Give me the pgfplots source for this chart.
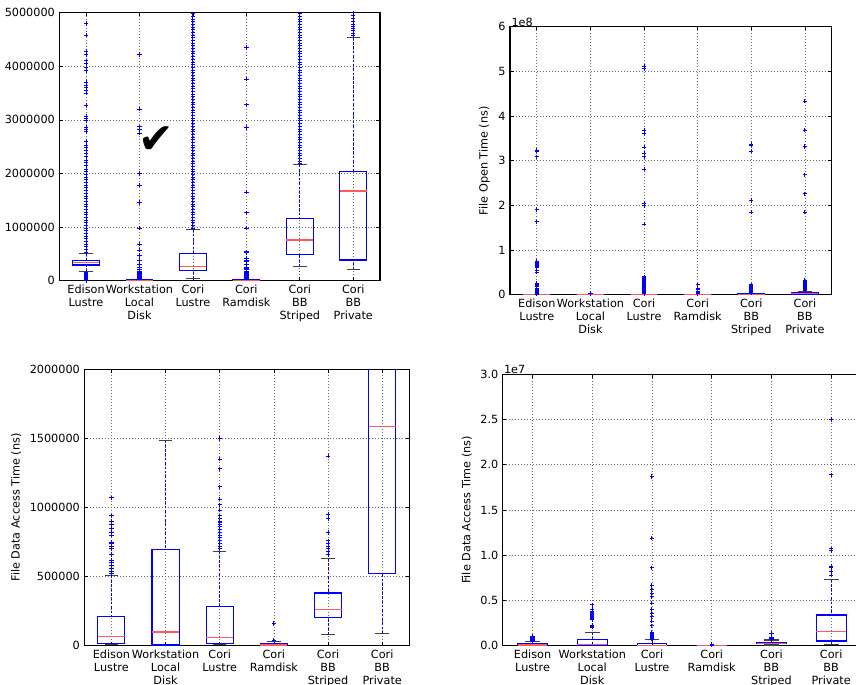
\documentclass[border=0pt]{standalone}
\usepackage{pgfplots}
\pgfplotsset{compat=1.18}
\usepgfplotslibrary{statistics}
\usepackage{fontspec}
\setmainfont{DejaVu Sans}
\definecolor{medred}{RGB}{255,90,90}
\newcommand{\lab}{\fontsize{9}{10.4}\selectfont}
\pgfplotsset{
  boxplot/draw/lower whisker/.code={%
    \draw[blue, dash pattern=on 2pt off 1.5pt, line width=0.6pt]
      (boxplot cs:\pgfplotsboxplotvalue{lower whisker},0) --
      (boxplot cs:\pgfplotsboxplotvalue{lower quartile},0);
    \draw[black!75, line width=0.9pt]
      (boxplot whisker cs:\pgfplotsboxplotvalue{lower whisker},0) --
      (boxplot whisker cs:\pgfplotsboxplotvalue{lower whisker},1);
  },
  boxplot/draw/upper whisker/.code={%
    \draw[blue, dash pattern=on 2pt off 1.5pt, line width=0.6pt]
      (boxplot cs:\pgfplotsboxplotvalue{upper whisker},0) --
      (boxplot cs:\pgfplotsboxplotvalue{upper quartile},0);
    \draw[black!75, line width=0.9pt]
      (boxplot whisker cs:\pgfplotsboxplotvalue{upper whisker},0) --
      (boxplot whisker cs:\pgfplotsboxplotvalue{upper whisker},1);
  },
  bx/.style={
    scale only axis, anchor=south west,
    xmin=0.5, xmax=6.5, xtick={1,2,3,4,5,6},
    xticklabels={{Edison\\Lustre},{Workstation\\Local\\Disk},{Cori\\Lustre},{Cori\\Ramdisk},{Cori\\BB\\Striped},{Cori\\BB\\Private}},
    xticklabel style={align=center},
    ticklabel style={font=\lab},
    label style={font=\lab},
    /pgf/number format/assume math mode=true,
    scaled y ticks=false,
    yticklabel style={/pgf/number format/fixed, /pgf/number format/1000 sep={}},
    xmajorgrids, ymajorgrids,
    grid style={black!60, dotted, line width=0.6pt},
    axis line style={black, line width=0.9pt},
    tick align=inside, major tick length=3pt, tick style={black, line width=0.6pt},
    boxplot/draw direction=y,
    boxplot/box extend=0.5,
    boxplot/whisker extend=0.25,
    boxplot/every box/.style={draw=blue, line width=0.9pt},
    boxplot/every median/.style={draw=medred, line width=1pt},
    every axis plot/.append style={blue, mark=+, mark size=1.7pt, mark options={blue, line width=0.8pt, solid}},
  },
}
% shared data for the two "File Data Access Time" panels (ns)
\newcommand{\accessplots}{%
  \addplot[boxplot prepared={draw position=1, lower whisker=10000, lower quartile=14500, median=67600, upper quartile=212000, upper whisker=507000}]
    table[row sep=\\, y index=0] {v\\ 0.52e6\\ 0.54e6\\ 0.56e6\\ 0.58e6\\ 0.6e6\\ 0.62e6\\ 0.66e6\\ 0.7e6\\ 0.72e6\\ 0.74e6\\ 0.75e6\\ 0.8e6\\ 0.82e6\\ 0.85e6\\ 0.88e6\\ 0.9e6\\ 0.94e6\\ 1.07e6\\};
  \addplot[boxplot prepared={draw position=2, lower whisker=2000, lower quartile=5000, median=99000, upper quartile=697000, upper whisker=1486000}]
    table[row sep=\\, y index=0] {v\\ 2.05e6\\ 2.15e6\\ 2.25e6\\ 2.9e6\\ 3.0e6\\ 3.1e6\\ 3.2e6\\ 3.3e6\\ 3.4e6\\ 3.5e6\\ 3.6e6\\ 3.7e6\\ 3.8e6\\ 4.0e6\\ 4.5e6\\};
  \addplot[boxplot prepared={draw position=3, lower whisker=10000, lower quartile=14500, median=58000, upper quartile=282000, upper whisker=683000}]
    table[row sep=\\, y index=0] {v\\ 0.7e6\\ 0.72e6\\ 0.74e6\\ 0.76e6\\ 0.78e6\\ 0.8e6\\ 0.82e6\\ 0.84e6\\ 0.86e6\\ 0.88e6\\ 0.89e6\\ 0.9e6\\ 0.92e6\\ 0.94e6\\ 0.98e6\\ 1.02e6\\ 1.06e6\\ 1.15e6\\ 1.28e6\\ 1.35e6\\ 1.5e6\\ 2.2e6\\ 2.7e6\\ 3.2e6\\ 3.6e6\\ 4.0e6\\ 4.7e6\\ 5.4e6\\ 5.8e6\\ 6.2e6\\ 6.7e6\\ 8.6e6\\ 11.9e6\\ 18.7e6\\};
  \addplot[boxplot prepared={draw position=4, lower whisker=0, lower quartile=2000, median=5000, upper quartile=12000, upper whisker=29000}]
    table[row sep=\\, y index=0] {v\\ 40000\\ 160000\\};
  \addplot[boxplot prepared={draw position=5, lower whisker=80000, lower quartile=207000, median=263000, upper quartile=381000, upper whisker=630000}]
    table[row sep=\\, y index=0] {v\\ 0.66e6\\ 0.68e6\\ 0.7e6\\ 0.72e6\\ 0.74e6\\ 0.76e6\\ 0.82e6\\ 0.92e6\\ 0.95e6\\ 1.37e6\\};
  \addplot[boxplot prepared={draw position=6, lower whisker=87000, lower quartile=524000, median=1585000, upper quartile=3400000, upper whisker=7300000}]
    table[row sep=\\, y index=0] {v\\ 7.8e6\\ 8.2e6\\ 8.7e6\\ 8.8e6\\ 10.5e6\\ 10.7e6\\ 18.9e6\\ 25.0e6\\};
}
\begin{document}
\begin{tikzpicture}
\path[use as bounding box] (0,0) rectangle (684.8pt,547.2pt);

% ---------------- Panel 1 ----------------
\begin{axis}[bx, at={(47.44pt,322.64pt)}, width=256.56pt, height=214.4pt,
  ymin=0, ymax=5000000, ytick={0,1000000,2000000,3000000,4000000,5000000}]
  \addplot[boxplot prepared={draw position=1, lower whisker=168000, lower quartile=292000, median=336000, upper quartile=385000, upper whisker=510000}]
    table[row sep=\\, y index=0] {v\\ 5000\\ 20000\\ 35000\\ 50000\\ 65000\\ 80000\\ 95000\\ 110000\\ 125000\\ 140000\\ 155000\\
    0.53e6\\ 0.58e6\\ 0.63e6\\ 0.68e6\\ 0.73e6\\ 0.78e6\\ 0.83e6\\ 0.88e6\\ 0.93e6\\ 0.98e6\\ 1.03e6\\ 1.08e6\\ 1.13e6\\ 1.18e6\\ 1.23e6\\ 1.28e6\\ 1.33e6\\ 1.38e6\\ 1.43e6\\ 1.48e6\\ 1.53e6\\ 1.58e6\\ 1.63e6\\ 1.68e6\\ 1.73e6\\ 1.78e6\\ 1.83e6\\ 1.88e6\\ 1.93e6\\ 1.98e6\\ 2.03e6\\ 2.08e6\\
    2.15e6\\ 2.2e6\\ 2.25e6\\ 2.32e6\\ 2.38e6\\ 2.42e6\\ 2.48e6\\ 2.53e6\\ 2.6e6\\ 2.78e6\\ 2.82e6\\ 2.86e6\\ 2.98e6\\ 3.03e6\\ 3.07e6\\ 3.27e6\\ 3.5e6\\ 3.55e6\\ 3.6e6\\ 3.65e6\\ 3.7e6\\ 3.92e6\\ 3.98e6\\ 4.05e6\\ 4.1e6\\ 4.22e6\\ 4.28e6\\ 4.58e6\\ 4.8e6\\};
  \addplot[boxplot prepared={draw position=2, lower whisker=0, lower quartile=3000, median=10000, upper quartile=15000, upper whisker=30000}]
    table[row sep=\\, y index=0] {v\\ 45000\\ 60000\\ 80000\\ 100000\\ 120000\\ 140000\\ 160000\\ 180000\\ 200000\\ 250000\\ 300000\\ 380000\\ 470000\\ 570000\\ 680000\\ 0.98e6\\ 1.46e6\\ 1.78e6\\ 2.0e6\\ 2.75e6\\ 2.83e6\\ 2.87e6\\ 3.2e6\\ 4.22e6\\};
  \addplot[boxplot prepared={draw position=3, lower whisker=37000, lower quartile=187000, median=261000, upper quartile=500000, upper whisker=958000}]
    table[row sep=\\, y index=0] {v\\ 0.98e6\\ 1.03e6\\ 1.08e6\\ 1.13e6\\ 1.18e6\\ 1.23e6\\ 1.28e6\\ 1.33e6\\ 1.38e6\\ 1.43e6\\
    1.48e6\\ 1.53e6\\ 1.58e6\\ 1.63e6\\ 1.68e6\\ 1.73e6\\ 1.78e6\\ 1.83e6\\ 1.88e6\\ 1.93e6\\
    1.98e6\\ 2.03e6\\ 2.08e6\\ 2.13e6\\ 2.18e6\\ 2.23e6\\ 2.28e6\\ 2.33e6\\ 2.38e6\\ 2.43e6\\
    2.48e6\\ 2.53e6\\ 2.58e6\\ 2.63e6\\ 2.68e6\\ 2.73e6\\ 2.78e6\\ 2.83e6\\ 2.88e6\\ 2.93e6\\
    2.98e6\\ 3.03e6\\ 3.08e6\\ 3.13e6\\ 3.18e6\\ 3.23e6\\ 3.28e6\\ 3.33e6\\ 3.38e6\\ 3.43e6\\
    3.48e6\\ 3.53e6\\ 3.58e6\\ 3.63e6\\ 3.68e6\\ 3.73e6\\ 3.78e6\\ 3.83e6\\ 3.88e6\\ 3.93e6\\
    3.98e6\\ 4.03e6\\ 4.08e6\\ 4.13e6\\ 4.18e6\\ 4.23e6\\ 4.28e6\\ 4.33e6\\ 4.38e6\\ 4.43e6\\
    4.48e6\\ 4.53e6\\ 4.58e6\\ 4.63e6\\ 4.68e6\\ 4.73e6\\ 4.78e6\\ 4.83e6\\ 4.88e6\\ 4.93e6\\ 4.98e6\\};
  \addplot[boxplot prepared={draw position=4, lower whisker=0, lower quartile=3000, median=10000, upper quartile=18000, upper whisker=30000}]
    table[row sep=\\, y index=0] {v\\ 45000\\ 60000\\ 80000\\ 100000\\ 120000\\ 140000\\ 160000\\ 180000\\ 200000\\ 220000\\ 250000\\ 300000\\ 350000\\ 380000\\ 420000\\ 520000\\ 540000\\ 0.98e6\\ 1.27e6\\ 1.65e6\\ 2.86e6\\ 3.28e6\\ 3.76e6\\ 4.35e6\\};
  \addplot[boxplot prepared={draw position=5, lower whisker=261000, lower quartile=497000, median=759000, upper quartile=1157000, upper whisker=2164000}]
    table[row sep=\\, y index=0] {v\\ 2.18e6\\ 2.23e6\\ 2.28e6\\ 2.33e6\\ 2.38e6\\ 2.43e6\\
    2.48e6\\ 2.53e6\\ 2.58e6\\ 2.63e6\\ 2.68e6\\ 2.73e6\\ 2.78e6\\ 2.83e6\\ 2.88e6\\ 2.93e6\\
    2.98e6\\ 3.03e6\\ 3.08e6\\ 3.13e6\\ 3.18e6\\ 3.23e6\\ 3.28e6\\ 3.33e6\\ 3.38e6\\ 3.43e6\\
    3.48e6\\ 3.53e6\\ 3.58e6\\ 3.63e6\\ 3.68e6\\ 3.73e6\\ 3.78e6\\ 3.83e6\\ 3.88e6\\ 3.93e6\\
    3.98e6\\ 4.03e6\\ 4.08e6\\ 4.13e6\\ 4.18e6\\ 4.23e6\\ 4.28e6\\ 4.33e6\\ 4.38e6\\ 4.43e6\\
    4.48e6\\ 4.53e6\\ 4.58e6\\ 4.63e6\\ 4.68e6\\ 4.73e6\\ 4.78e6\\ 4.83e6\\ 4.88e6\\ 4.93e6\\ 4.98e6\\};
  \addplot[boxplot prepared={draw position=6, lower whisker=211000, lower quartile=386000, median=1673000, upper quartile=2040000, upper whisker=4534000}]
    table[row sep=\\, y index=0] {v\\ 4.58e6\\ 4.62e6\\ 4.66e6\\ 4.7e6\\ 4.74e6\\ 4.78e6\\ 4.84e6\\ 4.9e6\\ 4.95e6\\ 5.0e6\\};
\end{axis}
\node[font=\fontsize{34}{34}\selectfont, inner sep=0pt] at (125pt,435.2pt) {✔};

% ---------------- Panel 2 ----------------
\begin{axis}[bx, at={(408pt,311.44pt)}, width=257.36pt, height=214.4pt,
  ymin=0, ymax=6, ytick={0,1,2,3,4,5,6}, ylabel={File Open Time (ns)}]
  \addplot[boxplot prepared={draw position=1, lower whisker=0.0005, lower quartile=0.002, median=0.003, upper quartile=0.004, upper whisker=0.007}]
    table[row sep=\\, y index=0] {v\\ 0.01\\ 0.03\\ 0.05\\ 0.08\\ 0.1\\ 0.12\\ 0.15\\ 0.18\\ 0.2\\ 0.22\\ 0.25\\ 0.5\\ 0.55\\ 0.6\\ 0.62\\ 0.64\\ 0.66\\ 0.68\\ 0.7\\ 0.72\\ 0.75\\ 1.63\\ 1.91\\ 3.09\\ 3.21\\ 3.23\\};
  \addplot[boxplot prepared={draw position=2, lower whisker=0, lower quartile=0.0001, median=0.0002, upper quartile=0.0003, upper whisker=0.0005}]
    table[row sep=\\, y index=0] {v\\ 0.02\\ 0.03\\};
  \addplot[boxplot prepared={draw position=3, lower whisker=0.0005, lower quartile=0.002, median=0.003, upper quartile=0.005, upper whisker=0.01}]
    table[row sep=\\, y index=0] {v\\ 0.02\\ 0.04\\ 0.06\\ 0.08\\ 0.1\\ 0.12\\ 0.14\\ 0.16\\ 0.18\\ 0.2\\ 0.22\\ 0.24\\ 0.26\\ 0.28\\ 0.3\\ 0.32\\ 0.34\\ 0.36\\ 0.38\\ 0.4\\ 1.58\\ 1.99\\ 2.04\\ 2.81\\ 3.09\\ 3.16\\ 3.3\\ 3.62\\ 3.68\\ 5.06\\ 5.12\\};
  \addplot[boxplot prepared={draw position=4, lower whisker=0, lower quartile=0.0002, median=0.0004, upper quartile=0.0006, upper whisker=0.001}]
    table[row sep=\\, y index=0] {v\\ 0.02\\ 0.05\\ 0.08\\ 0.12\\ 0.15\\ 0.22\\};
  \addplot[boxplot prepared={draw position=5, lower whisker=0.001, lower quartile=0.008, median=0.012, upper quartile=0.018, upper whisker=0.03}]
    table[row sep=\\, y index=0] {v\\ 0.04\\ 0.06\\ 0.08\\ 0.1\\ 0.12\\ 0.14\\ 0.16\\ 0.18\\ 0.2\\ 0.22\\ 1.85\\ 2.11\\ 3.21\\ 3.35\\ 3.37\\};
  \addplot[boxplot prepared={draw position=6, lower whisker=0.002, lower quartile=0.015, median=0.025, upper quartile=0.04, upper whisker=0.08}]
    table[row sep=\\, y index=0] {v\\ 0.1\\ 0.12\\ 0.14\\ 0.16\\ 0.18\\ 0.2\\ 0.22\\ 0.25\\ 0.28\\ 0.3\\ 0.32\\ 1.85\\ 2.26\\ 2.68\\ 3.32\\ 3.68\\ 4.33\\};
\end{axis}
\node[anchor=south west, inner sep=0pt, font=\lab] at (409pt,526pt) {1e8};

% ---------------- Panel 3 ----------------
\begin{axis}[bx, at={(67.44pt,30.64pt)}, width=260pt, height=221.12pt,
  ymin=0, ymax=2000000, ytick={0,500000,1000000,1500000,2000000},
  ylabel={File Data Access Time (ns)}]
  \accessplots
\end{axis}

% ---------------- Panel 4 ----------------
\begin{axis}[bx, at={(402.16pt,30.64pt)}, width=286.64pt, height=217.12pt,
  ymin=0, ymax=30000000, ytick={0,5000000,10000000,15000000,20000000,25000000,30000000},
  yticklabels={0.0,0.5,1.0,1.5,2.0,2.5,3.0},
  ylabel={File Data Access Time (ns)}]
  \accessplots
\end{axis}
\node[anchor=south west, inner sep=0pt, font=\lab] at (403pt,248pt) {1e7};
\end{tikzpicture}
\end{document}
